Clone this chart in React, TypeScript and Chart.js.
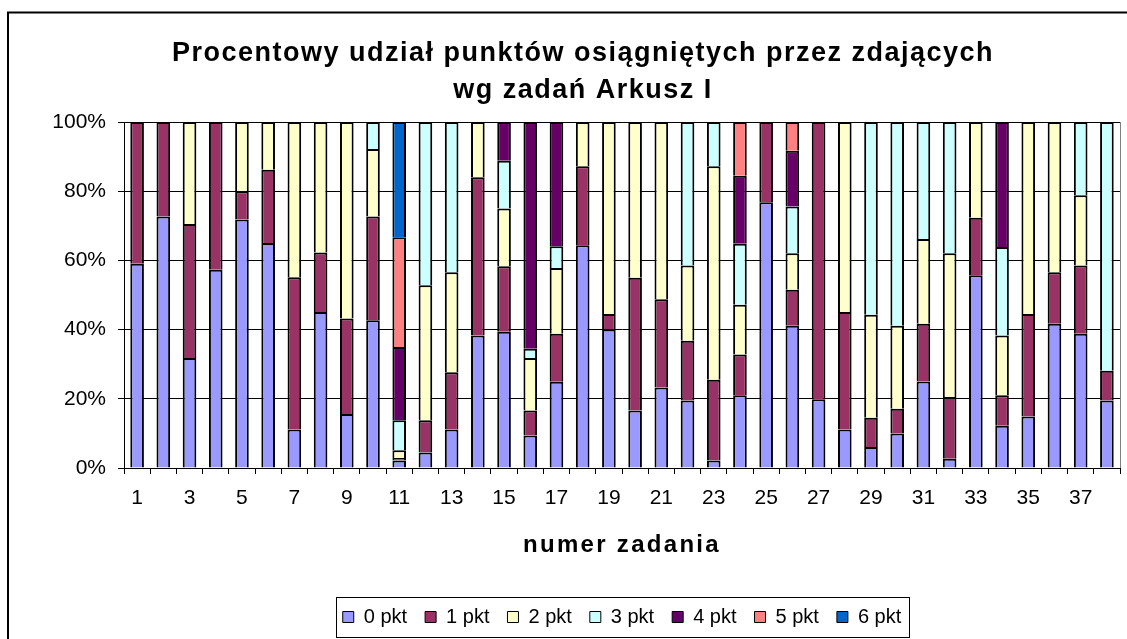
import React, { useEffect, useRef } from 'react';
import { Chart, registerables } from 'chart.js';

Chart.register(...registerables);

const categories = ['1','2','3','4','5','6','7','8','9','10','11','12','13','14','15','16','17','18','19','20','21','22','23','24','25','26','27','28','29','30','31','32','33','34','35','36','37','38'];
const tickLabels = categories.map((c, i) => (i % 2 === 0 ? c : ''));
const yTickValues = [0, 20, 40, 60, 80, 100];

const titleLines = ['Procentowy udział punktów osiągniętych przez zdających', 'wg zadań Arkusz I'];
const xTitle = 'numer zadania';

const seriesNames = ['0 pkt', '1 pkt', '2 pkt', '3 pkt', '4 pkt', '5 pkt', '6 pkt'];
const seriesColors = ['#9999FF', '#993366', '#FFFFCC', '#CCFFFF', '#660066', '#FF8080', '#0066CC'];

const pkt0 = [59, 72.7, 31.8, 57.3, 71.8, 65, 11.1, 45.1, 15.6, 42.7, 2.2, 4.5, 11.1, 38.3, 39.4, 9.4, 24.9, 64.4, 40, 16.6, 23.3, 19.5, 2.2, 21, 76.8, 41.1, 19.9, 11.1, 6.1, 10, 25, 2.7, 55.7, 12.2, 14.9, 41.7, 38.8, 19.5];
const pkt1 = [41, 27.3, 38.7, 42.7, 8.2, 21.2, 44, 17.2, 27.6, 30, 0.7, 9.3, 16.6, 45.7, 18.9, 7.2, 13.9, 22.8, 4.5, 38.4, 25.5, 17.3, 23.3, 11.8, 23.2, 10.4, 80.1, 34, 8.4, 7.1, 16.7, 17.8, 16.6, 8.8, 29.6, 14.9, 19.7, 8.6];
const pkt2 = [0, 0, 29.5, 0, 20, 13.8, 44.9, 37.7, 56.8, 19.5, 2.2, 39, 28.9, 16, 16.7, 15.2, 19, 12.8, 55.5, 45, 51.2, 21.7, 61.7, 14.4, 0, 10.6, 0, 54.9, 29.8, 24, 24.5, 41.6, 27.7, 17.3, 55.5, 43.4, 20.3, 0];
const pkt3 = [0, 0, 0, 0, 0, 0, 0, 0, 0, 7.8, 8.7, 47.2, 43.4, 0, 13.8, 2.7, 6.3, 0, 0, 0, 0, 41.5, 12.8, 17.6, 0, 13.5, 0, 0, 55.7, 58.9, 33.8, 37.9, 0, 25.6, 0, 0, 21.2, 71.9];
const pkt4 = [0, 0, 0, 0, 0, 0, 0, 0, 0, 0, 21.2, 0, 0, 0, 11.2, 65.5, 35.9, 0, 0, 0, 0, 0, 0, 19.7, 0, 16.1, 0, 0, 0, 0, 0, 0, 0, 36.1, 0, 0, 0, 0];
const pkt5 = [0, 0, 0, 0, 0, 0, 0, 0, 0, 0, 31.7, 0, 0, 0, 0, 0, 0, 0, 0, 0, 0, 0, 0, 15.5, 0, 8.3, 0, 0, 0, 0, 0, 0, 0, 0, 0, 0, 0, 0];
const pkt6 = [0, 0, 0, 0, 0, 0, 0, 0, 0, 0, 33.3, 0, 0, 0, 0, 0, 0, 0, 0, 0, 0, 0, 0, 0, 0, 0, 0, 0, 0, 0, 0, 0, 0, 0, 0, 0, 0, 0];

const seriesValues = [pkt0, pkt1, pkt2, pkt3, pkt4, pkt5, pkt6];

const FONT = '"Liberation Sans", Arial, Helvetica, sans-serif';

const decorPlugin = {
  id: 'decor',
  beforeDraw(chart: any) {
    const { ctx, chartArea: a, width, height } = chart;
    ctx.save();
    ctx.fillStyle = '#ffffff';
    ctx.fillRect(0, 0, width, height);
    ctx.strokeStyle = '#000000';
    ctx.lineWidth = 2;
    ctx.strokeRect(8, 12.5, 1200, 700);
    ctx.strokeStyle = '#808080';
    ctx.lineWidth = 1;
    ctx.strokeRect(Math.round(a.left) + 0.5, Math.round(a.top) + 0.5, Math.round(a.right - a.left), Math.round(a.bottom - a.top));
    ctx.restore();
  },
  afterDraw(chart: any) {
    const { ctx, chartArea: a } = chart;
    ctx.save();
    ctx.fillStyle = '#000000';
    ctx.textAlign = 'center';
    ctx.textBaseline = 'alphabetic';
    ctx.font = `bold 27px ${FONT}`;
    ctx.letterSpacing = '1.5px';
    titleLines.forEach((t, i) => ctx.fillText(t, 583, 61 + i * 37));
    ctx.font = `bold 24px ${FONT}`;
    ctx.letterSpacing = '2.3px';
    ctx.fillText(xTitle, (a.left + a.right) / 2, 552);
    ctx.letterSpacing = '0px';
    const lg = chart.legend;
    if (lg && lg.legendHitBoxes && lg.legendHitBoxes.length) {
      const hb = lg.legendHitBoxes;
      const l = Math.min(...hb.map((h: any) => h.left));
      const r = Math.max(...hb.map((h: any) => h.left + h.width));
      const cy = hb[0].top + hb[0].height / 2;
      ctx.strokeStyle = '#000000';
      ctx.lineWidth = 1;
      ctx.strokeRect(Math.round(l - 7) + 0.5, Math.round(cy - 20) + 0.5, Math.round(r - l + 14), 40);
    }
    ctx.restore();
  },
};

export default function App() {
  const canvasRef = useRef<HTMLCanvasElement | null>(null);

  useEffect(() => {
    document.body.style.margin = '0';
    const canvas = canvasRef.current;
    if (!canvas) return;
    const chart = new Chart(canvas, {
      type: 'bar',
      data: {
        labels: categories,
        datasets: seriesNames.map((name, i) => ({
          label: name,
          data: seriesValues[i].map((v) => (v === 0 ? null : v)),
          backgroundColor: seriesColors[i],
          borderColor: '#000000',
          borderWidth: 2,
          borderSkipped: 'start',
          barPercentage: 0.52,
          categoryPercentage: 1,
        })),
      },
      options: {
        responsive: false,
        animation: false,
        devicePixelRatio: 1,
        layout: { padding: { top: 122, left: 0, right: 7, bottom: 2 } },
        plugins: {
          title: { display: false },
          tooltip: { enabled: false },
          legend: {
            display: true,
            position: 'bottom',
            fullSize: false,
            labels: {
              boxWidth: 11,
              boxHeight: 11,
              padding: 18,
              color: '#000000',
              font: { size: 20, family: FONT },
              generateLabels: (c: any) =>
                Chart.defaults.plugins.legend.labels.generateLabels(c).map((it: any) => ({ ...it, lineWidth: 1 })),
            },
          },
        },
        scales: {
          x: {
            stacked: true,
            grid: { offset: true, drawOnChartArea: false, drawTicks: true, tickLength: 6, color: '#000000' },
            border: { display: true, color: '#000000', width: 1 },
            ticks: {
              autoSkip: false,
              maxRotation: 0,
              minRotation: 0,
              padding: 12,
              color: '#000000',
              font: { size: 21, family: FONT },
              callback: (_v: any, i: number) => tickLabels[i],
            },
            afterFit: (s: any) => {
              s.height = 121;
            },
          },
          y: {
            stacked: true,
            min: 0,
            max: 100,
            afterBuildTicks: (s: any) => {
              s.ticks = yTickValues.map((v) => ({ value: v }));
            },
            ticks: {
              padding: 12,
              color: '#000000',
              font: { size: 21, family: FONT },
              callback: (v: any) => `${v}%`,
            },
            grid: { color: '#000000', lineWidth: 1, tickLength: 6 },
            border: { display: true, color: '#000000', width: 1 },
            afterFit: (s: any) => {
              s.width = 124;
            },
          },
        },
      },
      plugins: [decorPlugin],
    } as any);
    return () => chart.destroy();
  }, []);

  return <canvas ref={canvasRef} width={1127} height={639} style={{ display: 'block' }} />;
}
